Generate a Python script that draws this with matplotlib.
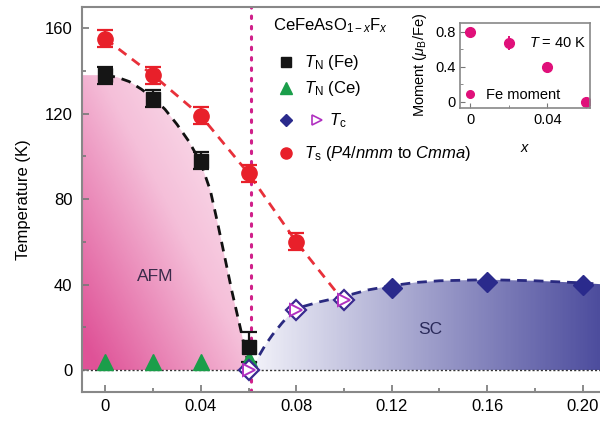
import numpy as np
import matplotlib
matplotlib.use('Agg')
from matplotlib import pyplot as plt
from matplotlib.colors import LinearSegmentedColormap
from matplotlib.patches import Polygon
from matplotlib.lines import Line2D
from matplotlib.ticker import MultipleLocator

plt.rcParams['font.family'] = ['Liberation Sans', 'DejaVu Sans']
plt.rcParams['mathtext.fontset'] = 'custom'
plt.rcParams['mathtext.rm'] = 'Liberation Sans'
plt.rcParams['mathtext.it'] = 'Liberation Sans:italic'

# T_N (Fe) - black squares
x_tn_fe = [0, 0.02, 0.04, 0.06]
tn_fe = [138, 127, 98, 11]
tn_fe_err = [4, 4, 4, 7]
# T_N (Ce) - green triangles
x_tn_ce = [0, 0.02, 0.04, 0.06]
tn_ce = [4, 4, 4, 5]
# T_c - open symbols and filled diamonds
x_tc_open = [0.06, 0.08, 0.10]
tc_open = [0, 28, 33]
x_tc = [0.12, 0.16, 0.20]
tc = [38.5, 41, 40]
# T_s - red circles
x_ts = [0, 0.02, 0.04, 0.06, 0.08]
ts = [155, 138, 119, 92, 60]
ts_err = [4, 4, 4, 4, 4]

# guide-to-the-eye curves
afm_x = [0, 0.005, 0.01, 0.015, 0.02, 0.025, 0.03, 0.035, 0.04, 0.044, 0.047, 0.05, 0.053, 0.0565, 0.0605]
afm_y = [138, 137, 135, 131.5, 127.5, 122, 115, 107, 97, 84, 69, 53, 37, 20, 0]
ts_line_x = [0, 0.02, 0.04, 0.06, 0.08, 0.10]
ts_line_y = [155, 138, 119, 92, 60, 32]
sc_x = [0.0615, 0.064, 0.067, 0.07, 0.074, 0.0776, 0.082, 0.09, 0.10, 0.11, 0.12, 0.13, 0.14,
        0.16, 0.18, 0.20, 0.21]
sc_y = [0, 6, 11.7, 16.5, 22, 26.5, 29.5, 32, 34.5, 37.5, 39.5, 41, 41.8, 42.3, 41.8, 40.8, 40]

# inset: Fe moment at 40 K
x_mom = [0, 0.02, 0.04, 0.06]
moment = [0.80, 0.67, 0.40, 0.0]
moment_err = [0.03, 0.08, 0.05, 0.03]

fig = plt.figure(figsize=(6, 4.23), dpi=100)
ax = fig.add_axes([0.137, 0.073, 0.866, 0.91])
xmin, xmax, ymin, ymax = -0.0097, 0.208, -10.3, 169.8

# AFM gradient region
pink = LinearSegmentedColormap.from_list('pink', ['#fdf4f8', '#f5bfd9', '#df5297'])
gx, gy = np.meshgrid(np.linspace(xmin, 0.062, 200), np.linspace(0, 140, 200))
t = np.clip(0.55 * (1 - (gx - xmin) / 0.072) + 0.5 * (1 - gy / 140), 0, 1)
im = ax.imshow(t, extent=(xmin, 0.062, 0, 140), origin='lower', cmap=pink,
               aspect='auto', vmin=0, vmax=1, zorder=0)
afm_poly = Polygon(list(zip([xmin, xmin] + afm_x, [0, afm_y[0]] + afm_y)),
                   closed=True, facecolor='none', edgecolor='none')
ax.add_patch(afm_poly)
im.set_clip_path(afm_poly)

# SC gradient region
blue = LinearSegmentedColormap.from_list('blue', ['#f2f2f9', '#4a4a9c'])
sx = np.linspace(0, 1, 300)[None, :]
im2 = ax.imshow(np.repeat(sx, 2, axis=0), extent=(sc_x[0], sc_x[-1], 0, 45), origin='lower',
                cmap=blue, aspect='auto', zorder=0)
sc_poly = Polygon(list(zip(sc_x + [sc_x[-1]], sc_y + [0])), closed=True,
                  facecolor='none', edgecolor='none')
ax.add_patch(sc_poly)
im2.set_clip_path(sc_poly)
ax.set_xlim(xmin, xmax)
ax.set_ylim(ymin, ymax)

ax.axhline(0, color='#333333', lw=1, ls=(0, (1.5, 1.5)), zorder=1)
ax.axvline(0.061, color='#d0208a', lw=2.2, ls=(0, (0.8, 2.6)), dash_capstyle='round', zorder=2)

dash = (0, (3.5, 2.5))
ax.plot(afm_x, afm_y, color='#111111', lw=2, ls=dash, zorder=2)
ax.plot(ts_line_x, ts_line_y, color='#e8303a', lw=2, ls=dash, zorder=2)
ax.plot(sc_x, sc_y, color='#2a2a80', lw=2, ls=dash, zorder=2)

ax.errorbar(x_ts, ts, yerr=ts_err, fmt='o', color='#e8202a', ms=11, capsize=5.5,
            elinewidth=1.6, capthick=1.6, zorder=4)
ax.errorbar(x_tn_fe, tn_fe, yerr=tn_fe_err, fmt='s', color='#151515', ms=9.5, capsize=5.5,
            elinewidth=1.6, capthick=1.6, zorder=4)
ax.plot(x_tn_ce, tn_ce, '^', color='#1a9e4a', ms=12, zorder=4, clip_on=False)
ax.plot(x_tc, tc, 'D', color='#2a2a8c', ms=10.5, zorder=4)
ax.plot(x_tc_open, tc_open, 'D', mfc='white', mec='#3a2a90', mew=1.6, ms=10, zorder=5)
ax.plot(x_tc_open, tc_open, '>', mfc='white', mec='#b030c0', mew=1.4, ms=8, zorder=6)

ax.text(0.021, 44, 'AFM', fontsize=12.5, color='#3a2a4a', ha='center', va='center')
ax.text(0.136, 19, 'SC', fontsize=12.5, color='#2a2a5a', ha='center', va='center')

# legend, drawn by hand to match the layout
tr = ax.transAxes
fs = 12
ax.text(0.367, 0.953, 'CeFeAsO$_{1-x}$F$_{x}$', transform=tr, fontsize=fs, va='center')
ax.plot([0.392], [0.857], 's', color='#151515', ms=6.5, transform=tr)
ax.plot([0.392], [0.790], '^', color='#1a9e4a', ms=8, transform=tr)
ax.plot([0.392], [0.706], 'D', color='#2a2a8c', ms=6.5, transform=tr)
ax.plot([0.452], [0.706], '>', mfc='white', mec='#b030c0', mew=1.2, ms=7, transform=tr)
ax.plot([0.392], [0.621], 'o', color='#e8202a', ms=8, transform=tr)
ax.text(0.427, 0.857, '$T_\\mathrm{N}$ (Fe)', transform=tr, fontsize=fs, va='center')
ax.text(0.427, 0.790, '$T_\\mathrm{N}$ (Ce)', transform=tr, fontsize=fs, va='center')
ax.text(0.475, 0.706, '$T_\\mathrm{c}$', transform=tr, fontsize=fs, va='center')
ax.text(0.427, 0.621, '$T_\\mathrm{s}$ ($P4/nmm$ to $Cmma$)', transform=tr, fontsize=fs, va='center')

ax.set_xticks([0, 0.04, 0.08, 0.12, 0.16, 0.20])
ax.set_xticklabels(['0', '0.04', '0.08', '0.12', '0.16', '0.20'])
ax.xaxis.set_minor_locator(MultipleLocator(0.02))
ax.set_yticks([0, 40, 80, 120, 160])
ax.yaxis.set_minor_locator(MultipleLocator(20))
ax.tick_params(which='both', direction='in', color='#777777', labelsize=12, width=1.2)
ax.tick_params(which='major', length=5)
ax.tick_params(which='minor', length=3)
ax.tick_params(axis='y', pad=7)
ax.tick_params(axis='x', pad=5)
ax.set_ylabel('Temperature (K)', fontsize=12, labelpad=10)
for s in ['left', 'bottom', 'top']:
    ax.spines[s].set_color('#888888')
    ax.spines[s].set_linewidth(1.5)
ax.spines['right'].set_visible(False)

# inset
ins = fig.add_axes([0.767, 0.745, 0.217, 0.201])
ins.errorbar(x_mom, moment, yerr=moment_err, fmt='o', color='#e0107a', ms=7,
             elinewidth=1.4, capsize=0)
ins.set_xlim(-0.0052, 0.0623)
ins.set_ylim(-0.069, 0.903)
ins.set_xticks([0, 0.04])
ins.set_xticklabels(['0', '0.04'])
ins.xaxis.set_minor_locator(MultipleLocator(0.02))
ins.set_yticks([0, 0.4, 0.8])
ins.set_yticklabels(['0', '0.4', '0.8'])
ins.yaxis.set_minor_locator(MultipleLocator(0.2))
ins.tick_params(which='both', direction='in', color='#777777', labelsize=10.5)
ins.tick_params(which='major', length=3.5)
ins.tick_params(which='minor', length=2)
ins.set_xlabel('$x$', fontsize=10.5, labelpad=10)
ins.set_ylabel('Moment ($\\mu_\\mathrm{B}$/Fe)', fontsize=10.5, labelpad=4)
ins.text(0.97, 0.765, '$T$ = 40 K', transform=ins.transAxes, fontsize=10.5, ha='right', va='center')
fe_handle = Line2D([], [], ls='none', marker='o', color='#e0107a', ms=5.5)
ins.legend([fe_handle], ['Fe moment'], loc='lower left', frameon=False, fontsize=10.5,
           handlelength=0.6, handletextpad=0.8, borderaxespad=0.1, borderpad=0.3)
for s in ins.spines.values():
    s.set_color('#888888')
    s.set_linewidth(1.2)

fig.savefig('out.png', dpi=100)
